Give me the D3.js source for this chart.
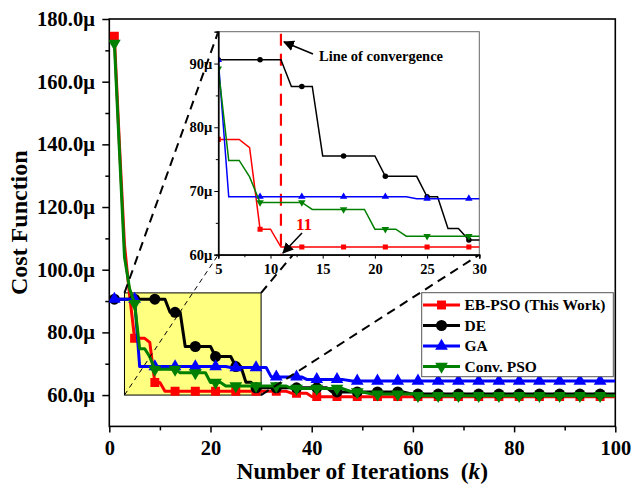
<!DOCTYPE html>
<html>
<head>
<meta charset="utf-8">
<script src="https://cdn.jsdelivr.net/npm/d3@7"></script>
<style>
  body { margin: 0; background: #fff; }
  svg text { font-family: "Liberation Serif", "Times New Roman", serif; font-weight: bold; }
</style>
</head>
<body>
<div id="chart"></div>
<script>
// --- Data (cost in micro units) ---
const seriesNames = ["EB-PSO (This Work)", "DE", "GA", "Conv. PSO"];
const seriesColors = ["#ff0000", "#000000", "#0000ff", "#008000"];

// line vertices: iteration / cost
const ebIter = [1, 2, 3, 4, 5, 7, 8, 9, 10, 11, 35, 36, 39, 40, 100];
const ebCost = [174.5, 140, 108, 92, 78.1, 78.1, 76.8, 64.0, 64.0, 61.2, 61.2, 60.6, 60.6, 59.5, 59.5];

const deIter = [1, 11, 12, 14, 15, 20, 21, 24, 25, 26, 27, 28, 29, 43, 44, 58, 60, 100];
const deCost = [90.6, 90.6, 86.4, 86.4, 75.5, 75.5, 72.3, 72.3, 69.1, 69.1, 64.1, 64.1, 62.3, 62.3, 61.0, 61.0, 60.3, 60.3];

const gaIter = [1, 5, 6, 23, 24, 31, 32, 38, 39, 46, 48, 100];
const gaCost = [90.6, 90.6, 69.1, 69.1, 68.8, 68.8, 65.8, 65.8, 65.0, 65.0, 64.5, 64.5];

const psoIter = [1, 2, 3, 4, 5, 6, 7, 8, 9, 13, 14, 19, 20, 22, 23, 35, 36, 46, 48, 50, 52, 60, 62, 100];
const psoCost = [172.2, 138, 104, 94, 89.2, 74.8, 74.8, 72.2, 68.2, 68.2, 67.1, 67.1, 64.0, 64.0, 62.9, 62.9, 62.1, 62.1, 61.0, 61.0, 60.3, 60.3, 59.8, 59.8];

// markers drawn every 4th iteration
const markIter = [1, 5, 9, 13, 17, 21, 25, 29, 33, 37, 41, 45, 49, 53, 57, 61, 65, 69, 73, 77, 81, 85, 89, 93, 97];
const ebMarks  = [174.5, 78.1, 64.0, 61.2, 61.2, 61.2, 61.2, 61.2, 61.2, 60.6, 59.5, 59.5, 59.5, 59.5, 59.5, 59.5, 59.5, 59.5, 59.5, 59.5, 59.5, 59.5, 59.5, 59.5, 59.5];
const deMarks  = [90.6, 90.6, 90.6, 86.4, 75.5, 72.3, 69.1, 62.3, 62.3, 62.3, 62.3, 61.0, 61.0, 61.0, 61.0, 60.3, 60.3, 60.3, 60.3, 60.3, 60.3, 60.3, 60.3, 60.3, 60.3];
const gaMarks  = [90.6, 90.6, 69.1, 69.1, 69.1, 69.1, 68.8, 68.8, 65.8, 65.8, 65.0, 65.0, 64.5, 64.5, 64.5, 64.5, 64.5, 64.5, 64.5, 64.5, 64.5, 64.5, 64.5, 64.5, 64.5];
const psoMarks = [172.2, 89.2, 68.2, 68.2, 67.1, 64.0, 62.9, 62.9, 62.9, 62.1, 62.1, 62.1, 61.0, 60.3, 60.3, 59.8, 59.8, 59.8, 59.8, 59.8, 59.8, 59.8, 59.8, 59.8, 59.8];

const xTicks = [0, 20, 40, 60, 80, 100];
const xMinor = [10, 30, 50, 70, 90];
const yTicks = [60, 80, 100, 120, 140, 160, 180];
const yMinor = [70, 90, 110, 130, 150, 170];

// zoomed region and inset ranges
const zoomIter = [3, 30];
const zoomCost = [60, 92.6];
const insetIter = [5, 30];
const insetCost = [60, 95];
const insetXTicks = [5, 10, 15, 20, 25, 30];
const insetXMinor = [7.5, 12.5, 17.5, 22.5, 27.5];
const insetYTicks = [60, 70, 80, 90];
const insetYMinor = [65, 75, 85];
const convergenceIter = 11;

// --- Build series table ---
const pairs = (it, c) => it.map((d, i) => [d, c[i]]);
const series = [
  { name: seriesNames[0], color: seriesColors[0], shape: "square", line: pairs(ebIter, ebCost),  marks: pairs(markIter, ebMarks) },
  { name: seriesNames[1], color: seriesColors[1], shape: "circle", line: pairs(deIter, deCost),  marks: pairs(markIter, deMarks) },
  { name: seriesNames[2], color: seriesColors[2], shape: "up",     line: pairs(gaIter, gaCost),  marks: pairs(markIter, gaMarks) },
  { name: seriesNames[3], color: seriesColors[3], shape: "down",   line: pairs(psoIter, psoCost), marks: pairs(markIter, psoMarks) }
];

function symbolPath(shape, big) {
  if (shape === "square") return d3.symbol().type(d3.symbolSquare).size(big ? 80 : 26)();
  if (shape === "circle") return d3.symbol().type(d3.symbolCircle).size(big ? 95 : 24)();
  return d3.symbol().type(d3.symbolTriangle).size(big ? 70 : 24)();
}
function symbolTransform(shape, px, py) {
  return `translate(${px},${py})` + (shape === "down" ? " rotate(180)" : "");
}

// --- Main chart ---
const W = 631, H = 487;
const margin = { top: 19, right: 15.7, bottom: 60.6, left: 109.3 };

const svg = d3.select("#chart").append("svg")
  .attr("width", W).attr("height", H);

const x = d3.scaleLinear().domain([0, 100]).range([margin.left, W - margin.right]);
const y = d3.scaleLinear().domain([50, 180]).range([H - margin.bottom, margin.top]);

svg.append("clipPath").attr("id", "clipMain")
  .append("rect")
  .attr("x", margin.left).attr("y", margin.top)
  .attr("width", W - margin.left - margin.right)
  .attr("height", H - margin.top - margin.bottom);

// axes
const xAxis = svg.append("g")
  .attr("transform", `translate(0,${H - margin.bottom})`)
  .call(d3.axisBottom(x).tickValues(xTicks).tickSize(6).tickPadding(8).tickFormat(d3.format("d")));
const xAxisMinor = svg.append("g")
  .attr("transform", `translate(0,${H - margin.bottom})`)
  .call(d3.axisBottom(x).tickValues(xMinor).tickSize(4).tickFormat(""));
const yAxis = svg.append("g")
  .attr("transform", `translate(${margin.left},0)`)
  .call(d3.axisLeft(y).tickValues(yTicks).tickSize(7).tickPadding(7.5).tickFormat(d => d.toFixed(1) + "μ"));
const yAxisMinor = svg.append("g")
  .attr("transform", `translate(${margin.left},0)`)
  .call(d3.axisLeft(y).tickValues(yMinor).tickSize(4).tickFormat(""));

[xAxis, xAxisMinor, yAxis, yAxisMinor].forEach(g => {
  g.select(".domain").remove();
  g.selectAll(".tick line").attr("stroke", "#000").attr("stroke-width", 1.5);
  g.selectAll(".tick text").attr("fill", "#000").style("font-size", "20.5px")
    .style("font-family", "'Liberation Serif', serif").style("font-weight", "bold");
});

// frame
svg.append("rect")
  .attr("x", margin.left).attr("y", margin.top)
  .attr("width", W - margin.left - margin.right)
  .attr("height", H - margin.top - margin.bottom)
  .attr("fill", "none").attr("stroke", "#000").attr("stroke-width", 1.6);

// axis titles
svg.append("text")
  .attr("transform", `translate(27,${(margin.top + H - margin.bottom) / 2}) rotate(-90)`)
  .attr("text-anchor", "middle")
  .style("font-size", "24px")
  .text("Cost Function");

svg.append("text")
  .attr("x", (margin.left + W - margin.right) / 2)
  .attr("y", 479)
  .attr("text-anchor", "middle")
  .style("font-size", "23.5px")
  .html("Number of Iterations\u00a0\u00a0(<tspan font-style=\"italic\">k</tspan>)");

// zoom region
svg.append("rect")
  .attr("x", x(zoomIter[0])).attr("y", y(zoomCost[1]))
  .attr("width", x(zoomIter[1]) - x(zoomIter[0]))
  .attr("height", y(zoomCost[0]) - y(zoomCost[1]))
  .attr("fill", "#ffff80").attr("stroke", "#000").attr("stroke-width", 1);

// curves
const mainLine = d3.line().x(d => x(d[0])).y(d => y(d[1]));
const mainG = svg.append("g").attr("clip-path", "url(#clipMain)");
series.forEach(s => {
  mainG.append("path")
    .attr("d", mainLine(s.line))
    .attr("fill", "none")
    .attr("stroke", s.color)
    .attr("stroke-width", 3)
    .attr("stroke-linejoin", "round");
  mainG.selectAll(null)
    .data(s.marks)
    .join("path")
    .attr("d", symbolPath(s.shape, true))
    .attr("transform", d => symbolTransform(s.shape, x(d[0]), y(d[1])))
    .attr("fill", s.color);
});

// --- Inset ---
const ix = d3.scaleLinear().domain(insetIter).range([218.3, 479.3]);
const iy = d3.scaleLinear().domain(insetCost).range([254.7, 31.7]);

// connector lines (zoom rectangle corners -> inset corners)
const connectors = [
  { from: [x(zoomIter[0]), y(zoomCost[1])], to: [ix.range()[0], iy.range()[1]], w: 2, dash: "9,6" },
  { from: [x(zoomIter[0]), y(zoomCost[0])], to: [ix.range()[0], iy.range()[0]], w: 1, dash: "5,4" },
  { from: [x(zoomIter[1]), y(zoomCost[1])], to: [ix.range()[1], iy.range()[1]], w: 2, dash: "9,6" },
  { from: [x(zoomIter[1]), y(zoomCost[0])], to: [ix.range()[1], iy.range()[0]], w: 2, dash: "9,6" }
];
svg.selectAll(".connector")
  .data(connectors)
  .join("line")
  .attr("class", "connector")
  .attr("x1", d => d.from[0]).attr("y1", d => d.from[1])
  .attr("x2", d => d.to[0]).attr("y2", d => d.to[1])
  .attr("stroke", "#000")
  .attr("stroke-width", d => d.w)
  .attr("stroke-dasharray", d => d.dash);

const inset = svg.append("g");
inset.append("rect")
  .attr("x", ix.range()[0]).attr("y", iy.range()[1])
  .attr("width", ix.range()[1] - ix.range()[0])
  .attr("height", iy.range()[0] - iy.range()[1])
  .attr("fill", "#fff").attr("stroke", "#666").attr("stroke-width", 1);

svg.append("clipPath").attr("id", "clipInset")
  .append("rect")
  .attr("x", ix.range()[0]).attr("y", iy.range()[1])
  .attr("width", ix.range()[1] - ix.range()[0])
  .attr("height", iy.range()[0] - iy.range()[1]);

const insetLine = d3.line().x(d => ix(d[0])).y(d => iy(d[1]));
const insetG = inset.append("g").attr("clip-path", "url(#clipInset)");

// convergence line
insetG.append("line")
  .attr("x1", ix(convergenceIter)).attr("x2", ix(convergenceIter))
  .attr("y1", iy.range()[1] + 2).attr("y2", iy.range()[0])
  .attr("stroke", "#ff0000").attr("stroke-width", 2.2)
  .attr("stroke-dasharray", "12,8");

series.forEach(s => {
  insetG.append("path")
    .attr("d", insetLine(s.line))
    .attr("fill", "none")
    .attr("stroke", s.color)
    .attr("stroke-width", 1.5);
  insetG.selectAll(null)
    .data(s.marks.filter(d => d[0] >= insetIter[0] && d[0] <= insetIter[1]))
    .join("path")
    .attr("d", symbolPath(s.shape, false))
    .attr("transform", d => symbolTransform(s.shape, ix(d[0]), iy(d[1])))
    .attr("fill", s.color);
});

const ixAxis = inset.append("g")
  .attr("transform", `translate(0,${iy.range()[0]})`)
  .call(d3.axisBottom(ix).tickValues(insetXTicks).tickSize(4).tickPadding(5).tickFormat(d3.format("d")));
const ixAxisMinor = inset.append("g")
  .attr("transform", `translate(0,${iy.range()[0]})`)
  .call(d3.axisBottom(ix).tickValues(insetXMinor).tickSize(2.5).tickFormat(""));
const iyAxis = inset.append("g")
  .attr("transform", `translate(${ix.range()[0]},0)`)
  .call(d3.axisLeft(iy).tickValues(insetYTicks).tickSize(4).tickPadding(2).tickFormat(d => d + "μ"));
const iyAxisMinor = inset.append("g")
  .attr("transform", `translate(${ix.range()[0]},0)`)
  .call(d3.axisLeft(iy).tickValues(insetYMinor).tickSize(2.5).tickFormat(""));
[ixAxis, ixAxisMinor, iyAxis, iyAxisMinor].forEach(g => {
  g.select(".domain").attr("stroke", "#000").attr("stroke-width", 1.2);
  g.selectAll(".tick line").attr("stroke", "#000");
  g.selectAll(".tick text").attr("fill", "#000").style("font-size", "14.5px")
    .style("font-family", "'Liberation Serif', serif").style("font-weight", "bold");
});

// arrow markers
svg.append("defs").append("marker")
  .attr("id", "arrow")
  .attr("viewBox", "0 0 10 10")
  .attr("refX", 9).attr("refY", 5)
  .attr("markerWidth", 11).attr("markerHeight", 11)
  .attr("markerUnits", "userSpaceOnUse")
  .attr("orient", "auto")
  .append("path").attr("d", "M0,0 L10,5 L0,10 Z").attr("fill", "#000");

inset.append("line")
  .attr("x1", 313).attr("y1", 54).attr("x2", 284).attr("y2", 42)
  .attr("stroke", "#000").attr("stroke-width", 1.5)
  .attr("marker-end", "url(#arrow)");
inset.append("text")
  .attr("x", 319).attr("y", 61)
  .style("font-size", "14.5px")
  .text("Line of convergence");

inset.append("line")
  .attr("x1", 302).attr("y1", 233).attr("x2", 283).attr("y2", 253)
  .attr("stroke", "#000").attr("stroke-width", 1.5)
  .attr("marker-end", "url(#arrow)");
inset.append("text")
  .attr("x", 304).attr("y", 230)
  .attr("text-anchor", "middle")
  .attr("fill", "#ff0000")
  .style("font-size", "17px")
  .text(String(convergenceIter));

// --- Legend ---
const legend = svg.append("g");
legend.append("rect")
  .attr("x", 421.7).attr("y", 292.7).attr("width", 191.6).attr("height", 84)
  .attr("fill", "#fff").attr("stroke", "#555").attr("stroke-width", 1);
series.forEach((s, i) => {
  const cy = 305 + i * 20.5;
  legend.append("line")
    .attr("x1", 423).attr("x2", 460).attr("y1", cy).attr("y2", cy)
    .attr("stroke", s.color).attr("stroke-width", 3);
  legend.append("path")
    .attr("d", symbolPath(s.shape, true))
    .attr("transform", symbolTransform(s.shape, 441.5, cy))
    .attr("fill", s.color);
  legend.append("text")
    .attr("x", 464.5).attr("y", cy + 5)
    .style("font-size", "15.5px")
    .text(s.name);
});
</script>
</body>
</html>
